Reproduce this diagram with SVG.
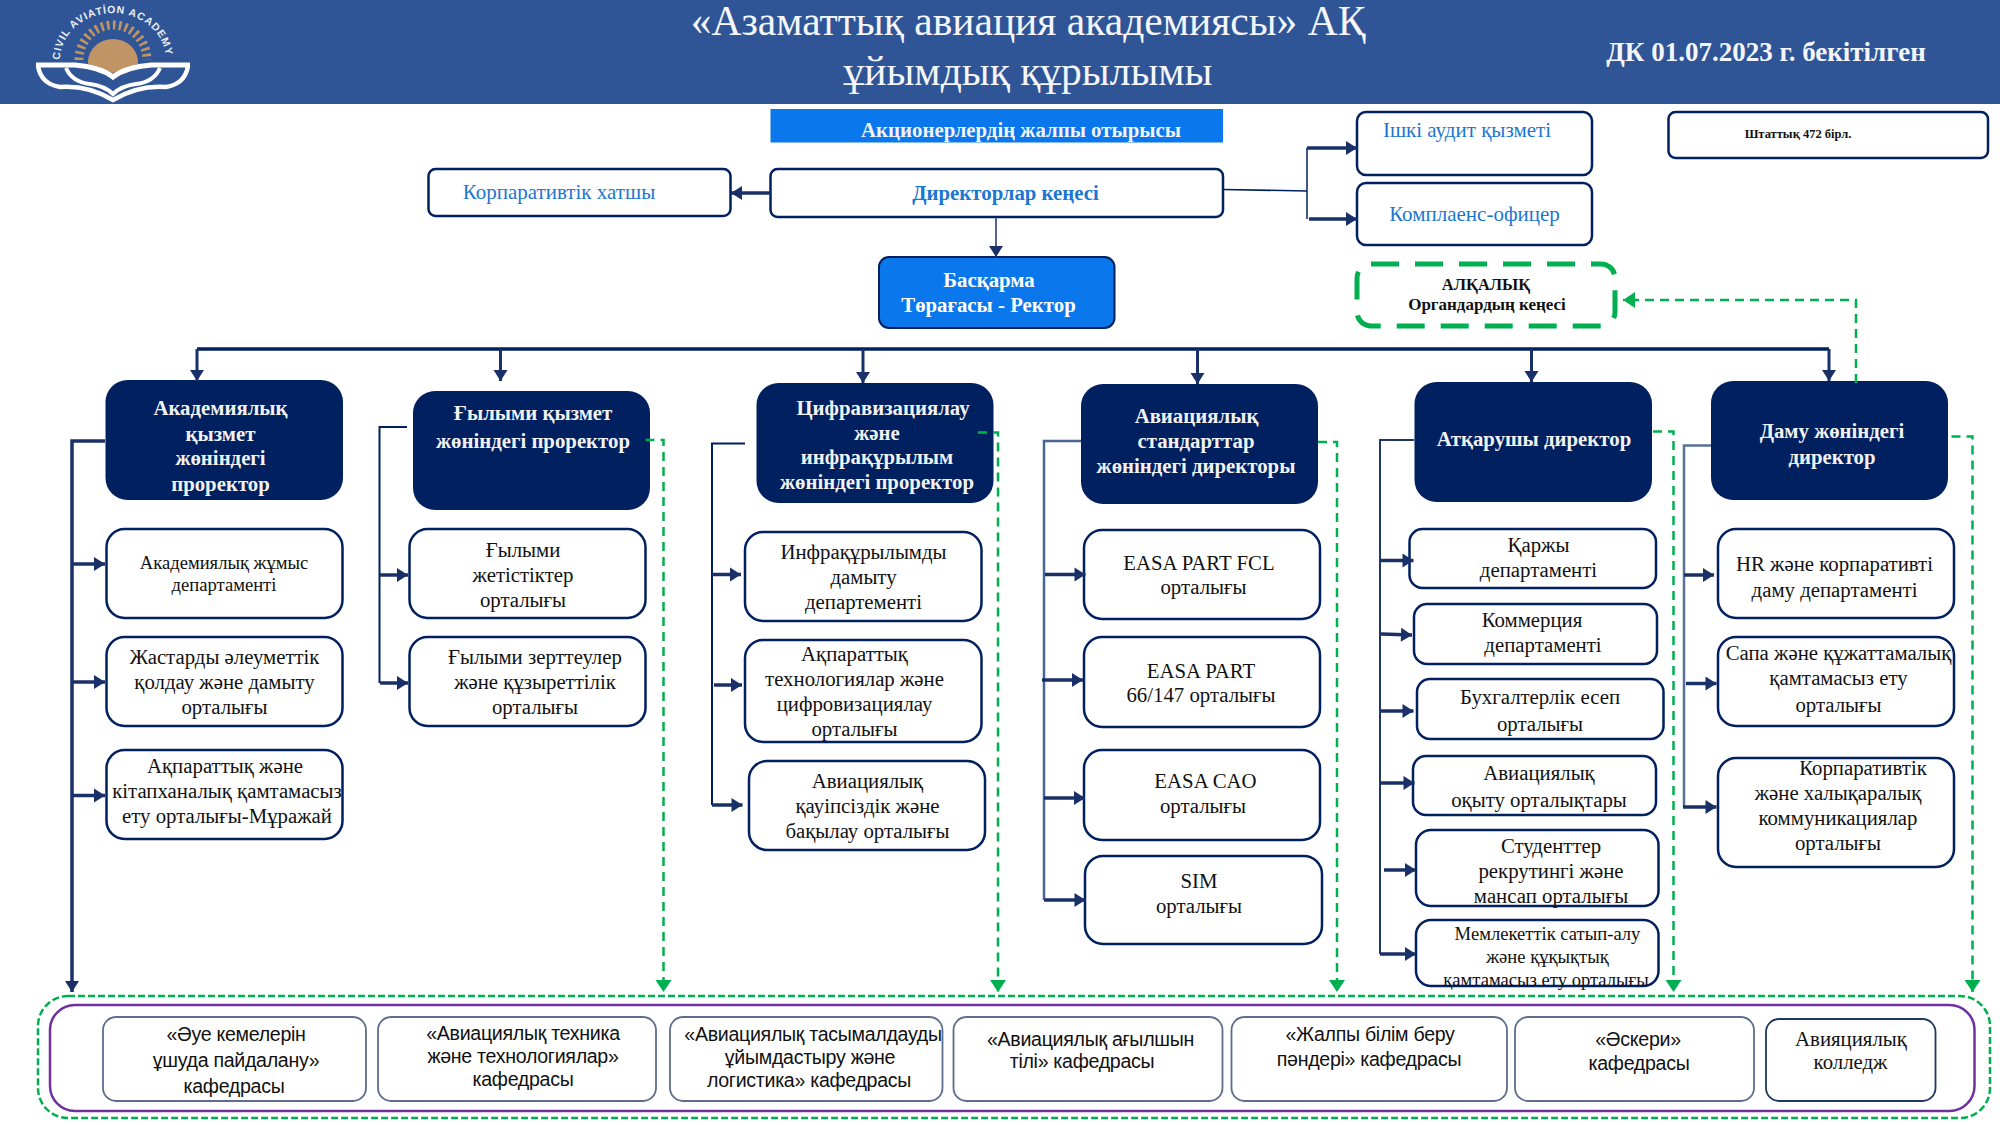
<svg xmlns="http://www.w3.org/2000/svg" width="2000" height="1125" viewBox="0 0 2000 1125">
<style>
text{font-family:"Liberation Serif","Times New Roman",serif;text-anchor:middle}
.box{fill:#fff;stroke:#002060;stroke-width:2.5}
.head{fill:#002060}
.head+text{transform:translateY(1px)}
.t{font-size:20.8px;fill:#111}
.s{font-size:18.6px;fill:#111}
.h{font-size:20.8px;font-weight:bold;fill:#f2f2f2}
.b{font-size:21px;fill:#1b76d2}
.k{fill:#fff;stroke:#5d6d8c;stroke-width:1.8}
.kt{font-family:"Liberation Sans",Arial,sans-serif;font-size:19.6px;fill:#111;letter-spacing:-.3px}
.n{fill:none;stroke:#002060;stroke-width:2}
.a{fill:none;stroke:#1a3068;stroke-width:3.5;marker-end:url(#ah)}
.g{fill:none;stroke:#00b050;stroke-width:2.5;stroke-dasharray:9 6}
.ga{marker-end:url(#gh)}
</style>
<defs>
<marker id="ah" markerUnits="userSpaceOnUse" markerWidth="14" markerHeight="16" refX="13" refY="8" orient="auto"><path d="M2 1L13 8L2 15Z" fill="#1a3068"/></marker>
<marker id="gh" markerUnits="userSpaceOnUse" markerWidth="14" markerHeight="18" refX="13" refY="9" orient="auto"><path d="M1 1L13 9L1 17Z" fill="#00b050"/></marker>
</defs>
<rect width="2000" height="1125" fill="#fff"/>
<g id="header">
<rect width="2000" height="104" fill="#2f5597"/>
<g id="logo">
<path id="logoArc" d="M60 60A52 46 0 0 1 166 60" fill="none"/>
<text font-size="10.5" font-weight="bold" fill="#e8ecf4" style="font-family:'Liberation Sans',sans-serif;text-anchor:start"><textPath href="#logoArc" textLength="152">CIVIL AVIATİON ACADEMY</textPath></text>
<path d="M79 60A34 35 0 0 1 147 60" fill="none" stroke="#c09464" stroke-width="9" stroke-dasharray="2.6 3.4"/>
<path d="M88 62A25 23 0 0 1 138 62V64L113 73L88 64Z" fill="#c09464"/>
<path d="M36 65H75Q100 67 113 77Q126 67 151 65H190" fill="none" stroke="#fff" stroke-width="5"/>
<path d="M38 66Q41 84 60 87Q88 85 113 100Q138 85 166 87Q185 84 188 66" fill="none" stroke="#fff" stroke-width="4.5"/>
<path d="M66 68Q72 82 90 84Q105 86 113 94Q121 86 136 84Q154 82 160 68" fill="none" stroke="#fff" stroke-width="4"/>
</g>
<text font-size="41.5" fill="#f4f6fa"><tspan x="1028" y="35">«Азаматтық авиация академиясы» АҚ</tspan><tspan x="1028" y="85">ұйымдық құрылымы</tspan></text>
<text x="1766" y="61" font-size="27" font-weight="bold" fill="#f4f6fa">ДК 01.07.2023 г. бекітілген</text>
</g>
<g id="n-shareholders"><rect x="770.500" y="109" width="452.500" height="33.500" fill="#0a77ed"/><text x="1021" y="137" class="h">Акционерлердің жалпы отырысы</text></g>
<g id="n-board"><rect class="box" x="770.500" y="169" width="452.500" height="48" rx="7"/><text x="1005.500" y="200" class="b" style="font-weight:bold;font-size:20.800px">Директорлар кеңесі</text></g>
<g id="n-secretary"><rect class="box" x="428.500" y="169" width="302" height="47" rx="7"/><text x="559" y="199" class="b">Корпаративтік хатшы</text></g>
<g id="n-audit"><rect class="box" x="1357" y="112" width="235" height="63" rx="9"/><text x="1467" y="137" class="b">Ішкі аудит қызметі</text></g>
<g id="n-compliance"><rect class="box" x="1357" y="183" width="235" height="62" rx="9"/><text x="1474.500" y="221" class="b">Комплаенс-офицер</text></g>
<g id="n-staff"><rect class="box" x="1668.500" y="112" width="319.500" height="46" rx="7"/><text x="1798" y="138" font-size="12.500" font-weight="bold" fill="#111">Штаттық 472 бірл.</text></g>
<g id="n-rector"><rect x="879" y="257" width="235.500" height="71" rx="10" fill="#0a77ed" stroke="#002060" stroke-width="2"/><text class="h" style="fill:#fff"><tspan x="989" y="287">Басқарма</tspan><tspan x="988.500" y="312">Төрағасы - Ректор</tspan></text></g>
<g id="n-collegial"><rect x="1357" y="264" width="258" height="62" rx="14" fill="#fff" stroke="#00b050" stroke-width="5" stroke-dasharray="28 16"/><text font-size="17" font-weight="bold" fill="#111"><tspan x="1486" y="290" font-size="16.500">АЛҚАЛЫҚ</tspan><tspan x="1487" y="310">Органдардың кеңесі</tspan></text></g>

<g id="h-academic"><rect class="head" x="105.500" y="380" width="237.500" height="120" rx="22"/><text class="h"><tspan x="220.500" y="414">Академиялық</tspan><tspan x="220.500" y="440">қызмет</tspan><tspan x="220.500" y="464">жөніндегі</tspan><tspan x="220.500" y="490">проректор</tspan></text></g>
<g id="h-science"><rect class="head" x="413" y="391" width="237" height="119" rx="22"/><text class="h"><tspan x="533" y="419">Ғылыми қызмет</tspan><tspan x="533" y="447">жөніндегі проректор</tspan></text></g>
<g id="h-digital"><rect class="head" x="756.500" y="383" width="237" height="120" rx="22"/><text class="h"><tspan x="883" y="414">Цифравизациялау</tspan><tspan x="877" y="439">және</tspan><tspan x="877" y="463">инфрақұрылым</tspan><tspan x="877" y="488">жөніндегі проректор</tspan></text></g>
<g id="h-standards"><rect class="head" x="1081" y="384" width="237" height="120" rx="22"/><text class="h"><tspan x="1196.500" y="422">Авиациялық</tspan><tspan x="1196" y="447">стандарттар</tspan><tspan x="1196" y="472">жөніндегі директоры</tspan></text></g>
<g id="h-exec"><rect class="head" x="1414.500" y="382" width="237.500" height="120" rx="22"/><text class="h" x="1534" y="445">Атқарушы директор</text></g>
<g id="h-dev"><rect class="head" x="1711" y="381" width="237" height="119" rx="22"/><text class="h"><tspan x="1832" y="437">Даму жөніндегі</tspan><tspan x="1832" y="463">директор</tspan></text></g>

<g id="a1"><rect class="box" x="106.500" y="529" width="236" height="89" rx="18"/><text class="s"><tspan x="224" y="569">Академиялық жұмыс</tspan><tspan x="224" y="591">департаменті</tspan></text></g>
<g id="a2"><rect class="box" x="106.500" y="637" width="236" height="89" rx="18"/><text class="t"><tspan x="224.500" y="664">Жастарды әлеуметтік</tspan><tspan x="224.500" y="689">қолдау және дамыту</tspan><tspan x="224.500" y="714">орталығы</tspan></text></g>
<g id="a3"><rect class="box" x="106.500" y="750" width="236" height="89" rx="18"/><text class="t"><tspan x="225" y="773">Ақпараттық және</tspan><tspan x="227" y="798">кітапханалық қамтамасыз</tspan><tspan x="227" y="823">ету орталығы-Мұражай</tspan></text></g>
<g id="s1"><rect class="box" x="409.500" y="529" width="236" height="89" rx="18"/><text class="t"><tspan x="523" y="557">Ғылыми</tspan><tspan x="523" y="582">жетістіктер</tspan><tspan x="523" y="607">орталығы</tspan></text></g>
<g id="s2"><rect class="box" x="409.500" y="637" width="236" height="89" rx="18"/><text class="t"><tspan x="535" y="664">Ғылыми зерттеулер</tspan><tspan x="535" y="689">және құзыреттілік</tspan><tspan x="535" y="714">орталығы</tspan></text></g>
<g id="d1"><rect class="box" x="745" y="532" width="236.500" height="89" rx="18"/><text class="t"><tspan x="863.500" y="559">Инфрақұрылымды</tspan><tspan x="863.500" y="584">дамыту</tspan><tspan x="863.500" y="609">департементі</tspan></text></g>
<g id="d2"><rect class="box" x="745" y="640" width="236.500" height="102" rx="18"/><text class="t"><tspan x="854.500" y="661">Ақпараттық</tspan><tspan x="854.500" y="686">технологиялар және</tspan><tspan x="854.500" y="711">цифровизациялау</tspan><tspan x="854.500" y="736">орталығы</tspan></text></g>
<g id="d3"><rect class="box" x="749" y="761" width="236" height="89" rx="18"/><text class="t"><tspan x="867.500" y="788">Авиациялық</tspan><tspan x="867.500" y="813">қауіпсіздік және</tspan><tspan x="867.500" y="838">бақылау орталығы</tspan></text></g>
<g id="c1"><rect class="box" x="1084" y="530" width="236" height="89" rx="18"/><text class="t"><tspan x="1199" y="570">EASA PART FCL</tspan><tspan x="1203.500" y="594">орталығы</tspan></text></g>
<g id="c2"><rect class="box" x="1084" y="637" width="236" height="90" rx="18"/><text class="t"><tspan x="1201" y="678">EASA PART</tspan><tspan x="1201" y="702">66/147 орталығы</tspan></text></g>
<g id="c3"><rect class="box" x="1084" y="750" width="236" height="90" rx="18"/><text class="t"><tspan x="1205.500" y="788">EASA CAO</tspan><tspan x="1203" y="813">орталығы</tspan></text></g>
<g id="c4"><rect class="box" x="1085" y="856" width="237" height="88" rx="18"/><text class="t"><tspan x="1199" y="888">SIM</tspan><tspan x="1199" y="913">орталығы</tspan></text></g>
<g id="e1"><rect class="box" x="1409.500" y="529" width="246.500" height="59" rx="13"/><text class="t"><tspan x="1538.500" y="552">Қаржы</tspan><tspan x="1538.500" y="577">департаменті</tspan></text></g>
<g id="e2"><rect class="box" x="1414" y="604" width="243" height="60" rx="13"/><text class="t"><tspan x="1532" y="627">Коммерция</tspan><tspan x="1543" y="652">департаменті</tspan></text></g>
<g id="e3"><rect class="box" x="1417" y="679" width="246.500" height="60" rx="13"/><text class="t"><tspan x="1540" y="704">Бухгалтерлік есеп</tspan><tspan x="1540" y="731">орталығы</tspan></text></g>
<g id="e4"><rect class="box" x="1413" y="756" width="243" height="59" rx="13"/><text class="t"><tspan x="1539" y="780">Авиациялық</tspan><tspan x="1539" y="807">оқыту орталықтары</tspan></text></g>
<g id="e5"><rect class="box" x="1416" y="830" width="242.500" height="76" rx="15"/><text class="t"><tspan x="1551" y="853">Студенттер</tspan><tspan x="1551" y="878">рекрутингі және</tspan><tspan x="1551" y="903">мансап орталығы</tspan></text></g>
<g id="e6"><rect class="box" x="1416" y="920" width="242.500" height="66" rx="15"/><text class="s"><tspan x="1547.500" y="940">Мемлекеттік сатып-алу</tspan><tspan x="1547.500" y="963">және құқықтық</tspan><tspan x="1546" y="986">қамтамасыз ету орталығы</tspan></text></g>
<g id="v1"><rect class="box" x="1718" y="529" width="236" height="89" rx="18"/><text class="t"><tspan x="1834.500" y="571">HR және корпаративті</tspan><tspan x="1834.500" y="597">даму департаменті</tspan></text></g>
<g id="v2"><rect class="box" x="1718" y="637" width="236" height="89" rx="18"/><text class="t"><tspan x="1838.500" y="660">Сапа және құжаттамалық</tspan><tspan x="1838.500" y="685">қамтамасыз ету</tspan><tspan x="1838.500" y="712">орталығы</tspan></text></g>
<g id="v3"><rect class="box" x="1718" y="758" width="236" height="109" rx="18"/><text class="t"><tspan x="1863" y="775">Корпаративтік</tspan><tspan x="1838" y="800">және халықаралық</tspan><tspan x="1838" y="825">коммуникациялар</tspan><tspan x="1838" y="850">орталығы</tspan></text></g>

<g id="dept-frame">
<rect x="38" y="996" width="1952" height="122" rx="30" fill="none" stroke="#00b050" stroke-width="2.500" stroke-dasharray="7 3"/>
<rect x="50" y="1005" width="1924.500" height="106" rx="25" fill="none" stroke="#7030a0" stroke-width="2.500"/>
</g>
<g id="k1"><rect class="k" x="103" y="1017" width="263" height="84" rx="13"/><text class="kt"><tspan x="236" y="1041">«Әуе кемелерін</tspan><tspan x="236" y="1067">ұшуда пайдалану»</tspan><tspan x="234" y="1093">кафедрасы</tspan></text></g>
<g id="k2"><rect class="k" x="378" y="1017" width="278" height="84" rx="13"/><text class="kt"><tspan x="523" y="1040">«Авиациялық техника</tspan><tspan x="523" y="1063">және технологиялар»</tspan><tspan x="523" y="1086">кафедрасы</tspan></text></g>
<g id="k3"><rect class="k" x="670" y="1017" width="272.500" height="84" rx="13"/><text class="kt"><tspan x="813" y="1041">«Авиациялық тасымалдауды</tspan><tspan x="810" y="1064">ұйымдастыру және</tspan><tspan x="809" y="1087">логистика» кафедрасы</tspan></text></g>
<g id="k4"><rect class="k" x="953.500" y="1017" width="269" height="84" rx="13"/><text class="kt"><tspan x="1090.500" y="1046">«Авиациялық ағылшын</tspan><tspan x="1082" y="1068">тілі» кафедрасы</tspan></text></g>
<g id="k5"><rect class="k" x="1231.500" y="1017" width="275.500" height="84" rx="13"/><text class="kt"><tspan x="1370" y="1041">«Жалпы білім беру</tspan><tspan x="1369" y="1066">пәндері» кафедрасы</tspan></text></g>
<g id="k6"><rect class="k" x="1515" y="1017" width="239" height="84" rx="13"/><text class="kt"><tspan x="1638" y="1046">«Әскери»</tspan><tspan x="1639" y="1070">кафедрасы</tspan></text></g>
<g id="k7"><rect x="1766" y="1019" width="169.500" height="82" rx="13" fill="#fff" stroke="#1f3864" stroke-width="1.800"/><text class="t"><tspan x="1851" y="1046">Авияциялық</tspan><tspan x="1850.500" y="1069">колледж</tspan></text></g>

<g id="connectors">
<path class="n" style="stroke-width:3.500" d="M197 349H1829"/>
<path class="a" style="stroke-width:3" d="M197 349V381"/>
<path class="a" style="stroke-width:3" d="M500.500 349V381"/>
<path class="a" style="stroke-width:3" d="M863 349V383"/>
<path class="a" style="stroke-width:3" d="M1197.500 349V384"/>
<path class="a" style="stroke-width:3" d="M1531.500 349V382"/>
<path class="a" style="stroke-width:3" d="M1829 349V381"/>
<path class="a" d="M770.500 193H731"/>
<path class="a" style="stroke-width:1.500" d="M996 217V257"/>
<path class="n" style="stroke-width:1.500" d="M1223 189.500L1307 191M1307 148V219"/>
<path class="a" d="M1307 148H1357"/>
<path class="a" d="M1309 219H1357"/>
<path class="g ga" d="M1856 383V300H1623"/>

<path class="a" d="M105 441H72V992"/>
<path class="a" d="M72 564H105"/><path class="a" d="M72 682H105"/><path class="a" d="M72 795.500H105"/>
<path class="g ga" d="M645.500 440H663.500V992"/>

<path class="n" d="M407 427H379.500V683"/>
<path class="a" d="M380 575H408"/><path class="a" d="M380 683H408"/>

<path class="n" d="M745 443.500H712V805"/>
<path class="a" d="M712 574.500H741"/><path class="a" d="M714 685H742"/><path class="a" d="M712 805H742.500"/>
<path class="g ga" d="M978 432.500H998V992"/>

<path class="n" style="stroke:#4a6496;stroke-width:2.500" d="M1081 441H1044V900"/>
<path class="a" d="M1045 574.500H1085.500"/><path class="a" d="M1042 680H1083"/><path class="a" d="M1044 798H1085"/><path class="a" d="M1044 900H1085.500"/>
<path class="g ga" d="M1318 442H1337V992"/>

<path class="n" style="stroke:#1f3864" d="M1414 440H1380V954"/>
<path class="a" d="M1380 560.500H1413.500"/><path class="a" d="M1381 634L1412 635"/><path class="a" d="M1381 711H1413.500"/><path class="a" d="M1380 783H1414.500"/><path class="a" d="M1384 870H1416"/><path class="a" d="M1380 954H1416"/>
<path class="g ga" d="M1653 431.500H1673.500V992"/>

<path class="n" style="stroke:#5a7099;stroke-width:2.500" d="M1711 445.500H1684V807"/>
<path class="a" d="M1684 575H1714"/><path class="a" d="M1686 683.500H1716.500"/><path class="a" d="M1683 807H1716.500"/>
<path class="g ga" d="M1951.500 436.500H1972.500V992"/>
</g>
</svg>
